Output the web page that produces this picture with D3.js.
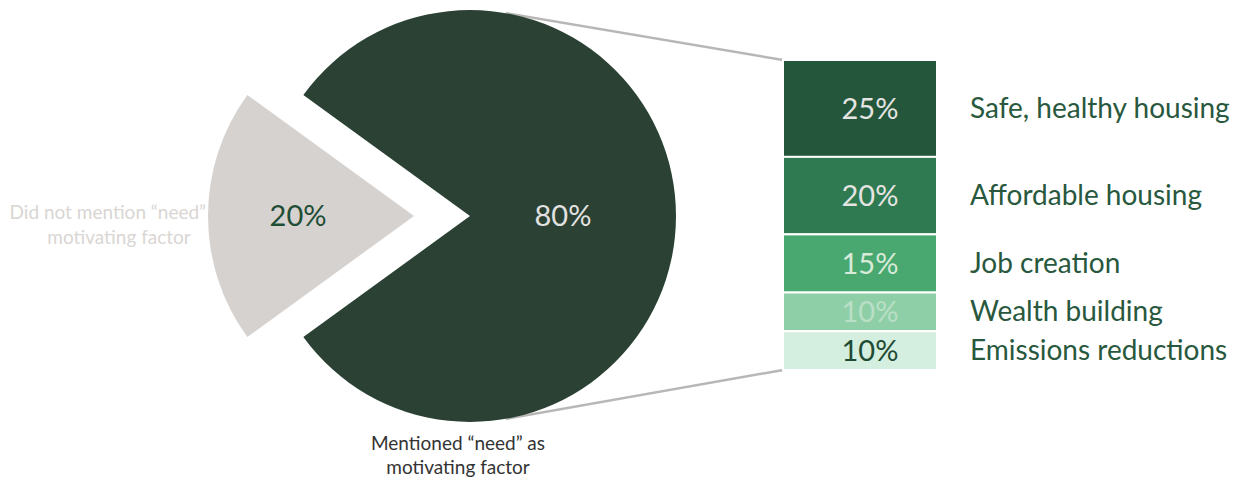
<!DOCTYPE html>
<html>
<head>
<meta charset="utf-8">
<script src="https://cdn.jsdelivr.net/npm/d3@7"></script>
<style>
  body { margin: 0; background: #fff; }
  svg { display: block; font-family: Lato, "Open Sans", sans-serif; }
</style>
</head>
<body>
<svg id="chart" width="1239" height="481"></svg>
<script>
// pie data
const pieLabels = ['Mentioned \u201cneed\u201d as motivating factor', 'Did not mention \u201cneed\u201d as motivating factor'];
const pieValues = [80, 20];
const pieColors = ['#2b4134', '#d6d2cf'];

// breakdown of the 80%
const reasons = ['Safe, healthy housing', 'Affordable housing', 'Job creation', 'Wealth building', 'Emissions reductions'];
const reasonValues = [25, 20, 15, 10, 10];
const reasonColors = ['#24563b', '#2f7a50', '#48a870', '#8fcfa8', '#d4eedf'];
const reasonTextColors = ['#e4e4e2', '#e4e4e2', '#d8ead8', '#b9dfc6', '#1f4a33'];

const svg = d3.select('#chart');
const cx = 470;
const cy = 216;
const radius = 206;
const explode = 56;
const deg = Math.PI / 180;

const pie = d3.pie().sort(null).startAngle(-54 * deg).endAngle(306 * deg);
const arcs = pie(pieValues);
const arc = d3.arc().innerRadius(0).outerRadius(radius);

// left label sits under the gray slice
svg.append('text')
    .attr('text-anchor', 'middle')
    .attr('fill', '#d9d6d3')
    .style('font-size', '19px')
    .selectAll('tspan')
    .data(['Did not mention \u201cneed\u201d as', 'motivating factor'])
    .enter().append('tspan')
    .attr('x', 119)
    .attr('y', (d, i) => 219 + i * 25)
    .text(d => d);

// connector lines
const scaleY = d3.scaleLinear().domain([0, d3.sum(reasonValues)]).range([60, 370]);
const barX = 783;
const barW = 154;
const topPt = [cx + radius * Math.sin(10 * deg), cy - radius * Math.cos(10 * deg)];
const botPt = [cx + radius * Math.sin(170 * deg), cy - radius * Math.cos(170 * deg)];
svg.append('line')
    .attr('x1', topPt[0]).attr('y1', topPt[1])
    .attr('x2', barX).attr('y2', scaleY(0))
    .attr('stroke', '#b9b7b6').attr('stroke-width', 2.5);
svg.append('line')
    .attr('x1', botPt[0]).attr('y1', botPt[1])
    .attr('x2', barX).attr('y2', scaleY(80))
    .attr('stroke', '#b9b7b6').attr('stroke-width', 2.5);

const g = svg.append('g').attr('transform', `translate(${cx},${cy})`);

g.selectAll('path')
    .data(arcs)
    .enter().append('path')
    .attr('d', arc)
    .attr('fill', (d, i) => pieColors[i])
    .attr('transform', (d, i) => {
        if (i === 0) return null;
        const mid = (d.startAngle + d.endAngle) / 2;
        return `translate(${explode * Math.sin(mid)},${-explode * Math.cos(mid)})`;
    });

// percentages on the pie
g.append('text')
    .attr('x', 93).attr('y', 0)
    .attr('dy', '0.35em')
    .attr('text-anchor', 'middle')
    .attr('fill', '#e2e2e0')
    .style('font-size', '29px')
    .text(`${pieValues[0]}%`);
g.append('text')
    .attr('x', -172).attr('y', 0)
    .attr('dy', '0.35em')
    .attr('text-anchor', 'middle')
    .attr('fill', '#1f4d35')
    .style('font-size', '29px')
    .text(`${pieValues[1]}%`);

// bottom label
svg.append('text')
    .attr('text-anchor', 'middle')
    .attr('fill', '#333')
    .style('font-size', '19px')
    .selectAll('tspan')
    .data(['Mentioned \u201cneed\u201d as', 'motivating factor'])
    .enter().append('tspan')
    .attr('x', 458)
    .attr('y', (d, i) => 450 + i * 24)
    .text(d => d);

// stacked bar
let acc = 0;
const segs = reasonValues.map((v, i) => {
    const s = { name: reasons[i], value: v, y0: acc, y1: acc + v, i };
    acc += v;
    return s;
});

const bar = svg.selectAll('.seg')
    .data(segs)
    .enter().append('g')
    .attr('class', 'seg');

bar.append('rect')
    .attr('x', barX)
    .attr('y', d => scaleY(d.y0))
    .attr('width', barW)
    .attr('height', d => scaleY(d.y1) - scaleY(d.y0))
    .attr('fill', d => reasonColors[d.i])
    .attr('stroke', '#fff')
    .attr('stroke-width', 2);

bar.append('text')
    .attr('x', barX + 87)
    .attr('y', d => (scaleY(d.y0) + scaleY(d.y1)) / 2)
    .attr('dy', '0.36em')
    .attr('text-anchor', 'middle')
    .attr('fill', d => reasonTextColors[d.i])
    .style('font-size', '29px')
    .text(d => `${d.value}%`);

bar.append('text')
    .attr('x', 970)
    .attr('y', d => (scaleY(d.y0) + scaleY(d.y1)) / 2)
    .attr('dy', '0.33em')
    .attr('fill', '#28583d')
    .style('font-size', '28px')
    .text(d => d.name);
</script>
</body>
</html>
